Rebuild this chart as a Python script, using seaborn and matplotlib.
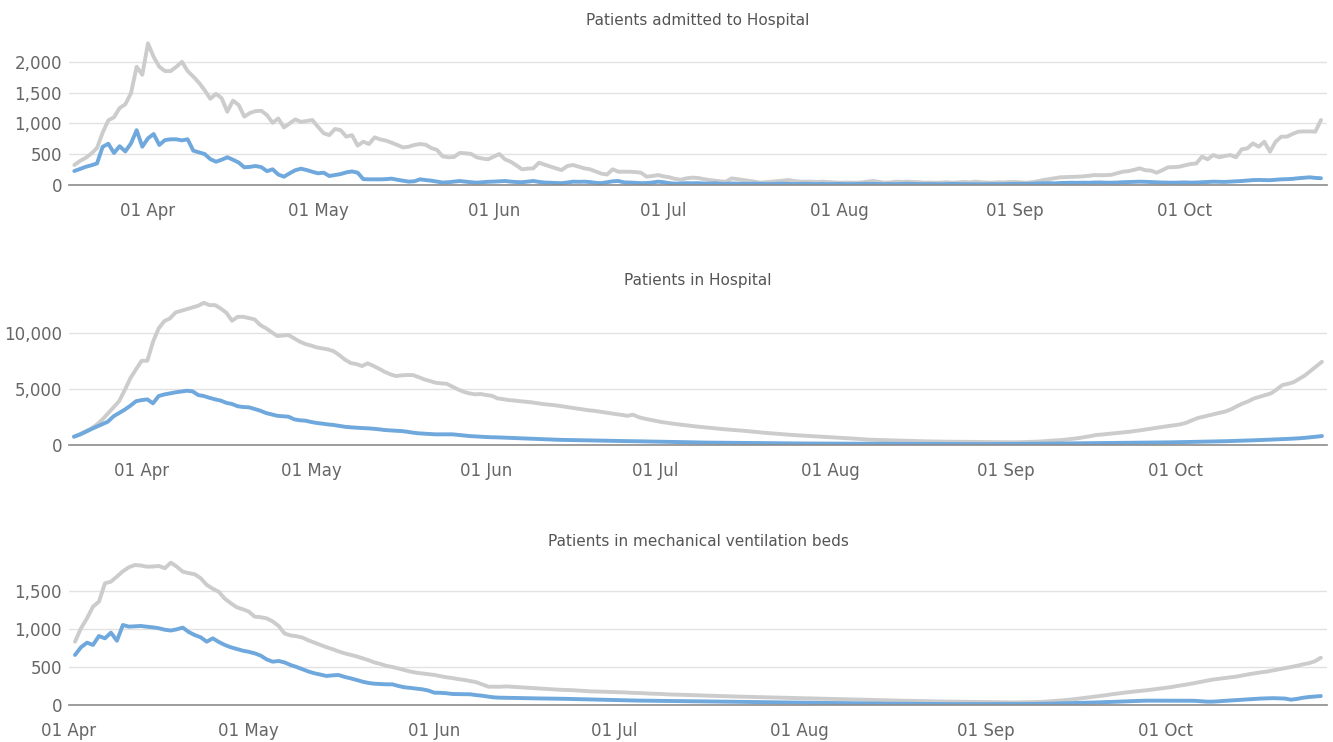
import pandas as pd
import matplotlib.pyplot as plt
import matplotlib.dates as mdates
from matplotlib.ticker import FuncFormatter
import seaborn as sns

# daily values (grey = total series, blue = sub series)
admitted_start = "2020-03-19"
admitted_total = [
    325, 390, 440, 510, 600, 850, 1050, 1100, 1250, 1310,
    1490, 1920, 1790, 2300, 2080, 1920, 1850, 1850, 1920, 2000,
    1850, 1760, 1660, 1540, 1400, 1480, 1410, 1190, 1370, 1300,
    1110, 1170, 1200, 1205, 1135, 1010, 1080, 935, 1000, 1065,
    1025, 1040, 1055, 945, 840, 810, 910, 890, 785, 810,
    640, 703, 665, 774, 740, 720, 687, 650, 610, 622,
    650, 665, 655, 600, 570, 465, 450, 455, 520, 515,
    505, 450, 430, 417, 460, 503, 417, 378, 320, 255,
    265, 271, 362, 330, 300, 270, 243, 308, 325, 297,
    270, 255, 220, 185, 170, 255, 216, 216, 216, 210,
    200, 135, 146, 162, 140, 125, 100, 85, 108, 119,
    115, 97, 81, 70, 60, 54, 108, 95, 81, 70,
    55, 37, 45, 54, 60, 70, 81, 65, 55, 54,
    55, 50, 54, 48, 42, 37, 40, 38, 37, 42,
    55, 65, 50, 37, 42, 54, 50, 54, 50, 45,
    37, 40, 37, 40, 45, 37, 42, 50, 42, 54,
    45, 40, 37, 45, 42, 48, 48, 42, 37, 45,
    60, 81, 95, 110, 125, 128, 130, 135, 140, 150,
    162, 158, 160, 165, 190, 216, 225, 245, 271, 240,
    233, 200, 240, 287, 290, 297, 320, 341, 350, 460,
    417, 487, 450, 470, 487, 450, 579, 595, 676, 622,
    703, 541, 703, 785, 785, 830, 866, 870, 870, 866, 1055,
]
admitted_sub = [
    227, 260, 295, 320, 350, 620, 670, 520, 630, 545,
    676, 890, 622, 758, 828, 650, 730, 742, 742, 725,
    742, 557, 530, 503, 420, 378, 410, 450, 410, 365,
    287, 295, 308, 290, 225, 255, 170, 135, 190, 240,
    265, 243, 215, 190, 200, 146, 162, 178, 205, 220,
    200, 95, 92, 92, 92, 95, 103, 85, 70, 55,
    60, 92, 80, 70, 55, 40, 45, 55, 65, 55,
    45, 38, 45, 52, 55, 60, 65, 55, 48, 45,
    55, 65, 50, 40, 37, 32, 30, 40, 54, 52,
    54, 48, 35, 30, 45, 60, 65, 43, 40, 35,
    30, 32, 40, 54, 45, 30, 22, 25, 30, 28,
    30, 25, 22, 28, 20, 18, 25, 22, 20, 18,
    22, 20, 18, 15, 20, 22, 18, 15, 18, 20,
    16, 15, 18, 14, 16, 18, 15, 14, 16, 18,
    20, 18, 15, 14, 16, 15, 18, 20, 17, 15,
    14, 16, 15, 13, 15, 17, 16, 14, 15, 13,
    12, 14, 15, 13, 15, 16, 18, 20, 18, 22,
    25, 28, 30, 27, 32, 35, 37, 35, 38, 36,
    40, 42, 38, 37, 40, 45, 48, 50, 54, 52,
    48, 45, 40, 38, 37, 40, 42, 38, 40, 45,
    50, 54, 52, 50, 55, 60, 65, 72, 80, 82,
    80, 78, 85, 92, 95, 100, 110, 118, 125, 115, 110,
]

hospital_start = "2020-03-20"
hospital_total = [
    740, 950, 1200, 1450, 1800, 2250, 2800, 3350, 3900, 4890,
    5950, 6750, 7500, 7500, 9190, 10380, 11030, 11270, 11800, 11950,
    12100, 12250, 12400, 12660, 12455, 12455, 12150, 11770, 11060, 11415,
    11415, 11300, 11180, 10680, 10400, 10050, 9700, 9750, 9790, 9500,
    9200, 8990, 8850, 8690, 8600, 8510, 8350, 8000, 7600, 7300,
    7210, 7030, 7270, 7050, 6800, 6520, 6300, 6140, 6200, 6230,
    6230, 6050, 5850, 5700, 5550, 5490, 5450, 5200, 4950, 4740,
    4600, 4510, 4540, 4450, 4380, 4150, 4080, 4000, 3960, 3900,
    3850, 3800, 3720, 3650, 3600, 3550, 3480, 3400, 3320, 3250,
    3180, 3100, 3050, 2980, 2900, 2820, 2750, 2680, 2600, 2700,
    2480, 2350, 2250, 2150, 2050, 1980, 1900, 1840, 1780, 1720,
    1660, 1610, 1560, 1510, 1460, 1410, 1370, 1330, 1290, 1250,
    1200, 1150, 1100, 1060, 1020, 980, 940, 900, 870, 840,
    810, 780, 750, 720, 690, 660, 630, 600, 570, 540,
    500, 470, 455, 440, 425, 410, 395, 380, 365, 350,
    335, 325, 315, 305, 300, 295, 290, 285, 280, 275,
    270, 265, 260, 255, 250, 245, 240, 245, 255, 270,
    290, 310, 340, 380, 410, 445, 500, 560, 620, 700,
    790, 890, 930, 980, 1030, 1080, 1130, 1185, 1250, 1320,
    1400, 1470, 1550, 1630, 1700, 1770, 1850, 1985, 2200, 2400,
    2520, 2650, 2750, 2875, 3000, 3200, 3470, 3700, 3900, 4150,
    4300, 4450, 4600, 4950, 5340, 5450, 5600, 5900, 6200, 6600, 7000, 7410,
]
hospital_sub = [
    740, 920, 1150, 1400, 1630, 1850, 2075, 2550, 2850, 3150,
    3500, 3900, 4000, 4065, 3710, 4360, 4500, 4600, 4690, 4760,
    4830, 4780, 4450, 4360, 4200, 4065, 3950, 3750, 3650, 3450,
    3380, 3355, 3200, 3055, 2850, 2730, 2600, 2560, 2520, 2285,
    2200, 2165, 2050, 1960, 1900, 1830, 1780, 1700, 1620, 1575,
    1540, 1510, 1485, 1450, 1400, 1335, 1300, 1270, 1245, 1180,
    1100, 1040, 1010, 980, 950, 950, 950, 950, 900, 850,
    800, 770, 740, 710, 690, 680, 660, 640, 620, 600,
    580, 560, 540, 520, 500, 480, 460, 450, 440, 430,
    420, 410, 400, 390, 380, 370, 360, 350, 345, 340,
    330, 320, 310, 300, 290, 280, 270, 260, 250, 240,
    230, 220, 215, 210, 205, 200, 195, 190, 185, 180,
    175, 170, 165, 160, 155, 150, 145, 140, 138, 135,
    132, 130, 128, 125, 122, 120, 118, 115, 112, 110,
    108, 106, 104, 102, 100, 98, 96, 94, 92, 90,
    90, 88, 86, 85, 84, 83, 82, 81, 80, 80,
    80, 80, 82, 85, 88, 90, 92, 95, 100, 105,
    110, 115, 120, 125, 130, 135, 140, 145, 150, 155,
    160, 165, 170, 175, 180, 185, 190, 195, 200, 205,
    210, 215, 220, 225, 235, 245, 255, 265, 275, 285,
    295, 305, 315, 325, 340, 355, 370, 385, 400, 420,
    440, 460, 480, 500, 520, 545, 570, 600, 640, 690, 740, 800,
]

ventilation_start = "2020-04-02"
ventilation_total = [
    833, 1009, 1140, 1294, 1360, 1601, 1623, 1690, 1760, 1812,
    1842, 1835, 1820, 1822, 1829, 1800, 1873, 1820, 1754, 1735,
    1720, 1667, 1580, 1530, 1490, 1400, 1340, 1286, 1260, 1230,
    1162, 1155, 1140, 1100, 1040, 940, 915, 905, 886, 850,
    820, 790, 760, 735, 705, 680, 660, 640, 615, 590,
    560, 540, 515, 500, 480, 460, 440, 425, 415, 405,
    395, 380, 365, 355, 340, 330, 315, 300, 270, 241,
    241, 240, 245, 240, 235, 230, 225, 220, 215, 210,
    205, 200, 198, 195, 190, 185, 180, 178, 175, 172,
    170, 168, 165, 160, 158, 155, 150, 148, 145, 140,
    138, 135, 132, 130, 128, 125, 122, 120, 118, 115,
    112, 110, 108, 106, 104, 102, 100, 98, 96, 94,
    92, 90, 88, 86, 84, 82, 80, 78, 76, 74,
    72, 70, 68, 66, 64, 62, 60, 58, 56, 55,
    54, 52, 50, 48, 47, 46, 45, 44, 43, 42,
    41, 40, 39, 38, 37, 36, 35, 34, 35, 36,
    38, 40, 44, 50, 56, 62, 70, 78, 88, 98,
    108, 118, 128, 140, 150, 160, 170, 178, 186, 195,
    205, 215, 225, 235, 250, 262, 275, 290, 305, 320,
    335, 345, 355, 365, 375, 390, 405, 418, 430, 440,
    455, 470, 485, 500, 515, 535, 550, 575, 622,
]
ventilation_sub = [
    658, 760, 820, 790, 908, 877, 952, 846, 1053, 1031,
    1035, 1040, 1030, 1022, 1010, 990, 980, 996, 1018, 960,
    920, 890, 833, 877, 830, 790, 760, 737, 715, 700,
    680, 650, 600, 570, 579, 560, 526, 500, 470, 440,
    417, 400, 382, 390, 395, 370, 351, 330, 307, 290,
    280, 276, 272, 272, 250, 233, 225, 215, 206, 190,
    162, 160, 155, 145, 143, 142, 141, 130, 122, 110,
    100, 96, 95, 94, 92, 90, 88, 87, 86, 85,
    85, 83, 81, 79, 77, 75, 73, 71, 69, 67,
    65, 63, 61, 60, 58, 57, 56, 54, 53, 52,
    51, 50, 49, 48, 47, 46, 45, 44, 43, 42,
    41, 40, 39, 38, 37, 36, 35, 34, 33, 32,
    31, 30, 29, 28, 27, 26, 25, 24, 23, 22,
    21, 20, 20, 19, 18, 18, 17, 17, 16, 16,
    15, 15, 14, 14, 13, 13, 12, 12, 12, 11,
    11, 11, 11, 11, 11, 12, 12, 12, 13, 13,
    14, 15, 16, 18, 20, 22, 24, 26, 28, 30,
    32, 35, 38, 41, 44, 47, 50, 53, 55, 57,
    57, 57, 58, 58, 57, 57, 56, 55, 50, 44,
    44, 50, 55, 60, 66, 70, 75, 80, 85, 88,
    90, 88, 85, 70, 80, 95, 105, 112, 118,
]

GREY = "#cccccc"
BLUE = "#6fa8dc"
W, H = 1333, 742


def panel_frame(start, total, sub):
    n = len(total)
    dates = list(pd.date_range(start, periods=n, freq="D"))
    return pd.DataFrame({
        "date": dates + dates,
        "value": total + sub,
        "series": ["total"] * n + ["sub"] * len(sub),
    })


panels = [
    dict(title="Patients admitted to Hospital", title_y=20, top=37.2, bottom=185,
         df=panel_frame(admitted_start, admitted_total, admitted_sub),
         ymax=2400, yticks=[0, 500, 1000, 1500, 2000],
         xlim=("2020-03-18 01:30", "2020-10-26 01:30")),
    dict(title="Patients in Hospital", title_y=281, top=299, bottom=445,
         df=panel_frame(hospital_start, hospital_total, hospital_sub),
         ymax=13000, yticks=[0, 5000, 10000],
         xlim=("2020-03-19 03:00", "2020-10-27 21:30")),
    dict(title="Patients in mechanical ventilation beds", title_y=541, top=553, bottom=705,
         df=panel_frame(ventilation_start, ventilation_total, ventilation_sub),
         ymax=2000, yticks=[0, 500, 1000, 1500],
         xlim=("2020-04-01 00:00", "2020-10-28 00:40")),
]

sns.set_theme(style="white")
plt.rcParams["font.family"] = ["DejaVu Sans"]

fig = plt.figure(figsize=(W / 100, H / 100), dpi=100)
left, right = 69, 1327

for p in panels:
    ax = fig.add_axes([left / W, 1 - p["bottom"] / H, (right - left) / W,
                       (p["bottom"] - p["top"]) / H])
    sns.lineplot(data=p["df"], x="date", y="value", hue="series",
                 hue_order=["total", "sub"], palette={"total": GREY, "sub": BLUE},
                 linewidth=2.8, legend=False, ax=ax)
    for line in ax.lines:
        line.set_solid_joinstyle("round")
        line.set_solid_capstyle("round")

    ax.set_xlim(pd.Timestamp(p["xlim"][0]), pd.Timestamp(p["xlim"][1]))
    ax.set_ylim(0, p["ymax"])
    ax.set_yticks(p["yticks"])
    ax.yaxis.set_major_formatter(FuncFormatter(lambda v, pos: f"{v:,.0f}"))
    ax.xaxis.set_major_locator(mdates.MonthLocator())
    ax.xaxis.set_major_formatter(mdates.DateFormatter("%d %b"))

    ax.set_xlabel("")
    ax.set_ylabel("")
    ax.grid(axis="y", color="#e2e2e2", linewidth=1.0)
    ax.grid(axis="x", visible=False)
    ax.set_axisbelow(True)
    for side in ["top", "right", "left"]:
        ax.spines[side].set_visible(False)
    ax.spines["bottom"].set_color("#8c8c8c")
    ax.spines["bottom"].set_linewidth(1.2)
    ax.spines["bottom"].set_zorder(3)
    ax.tick_params(axis="y", length=0, pad=5, labelsize=12, labelcolor="#666666")
    ax.tick_params(axis="x", length=0, pad=12, labelsize=12, labelcolor="#666666")

    fig.text((left + right) / 2 / W, 1 - p["title_y"] / H, p["title"],
             ha="center", va="center", fontsize=11, color="#555555")

fig.savefig("out.png", dpi=100)
plt.close(fig)
